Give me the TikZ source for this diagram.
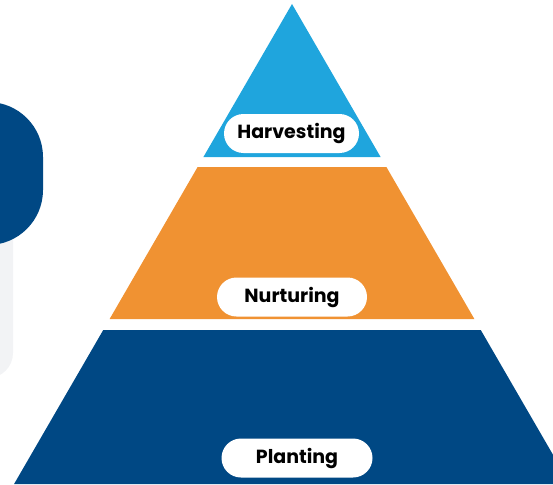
\documentclass[tikz,border=0pt]{standalone}
\usepackage{fontspec}
\setmainfont{Poppins}
\usetikzlibrary{calc}
\usetikzlibrary{positioning}

\definecolor{skyblue}{HTML}{1FA5DD}
\definecolor{carrot}{HTML}{F09232}
\definecolor{navy}{HTML}{004884}
\definecolor{paper}{HTML}{F2F3F5}

\tikzset{pill/.style={fill=white, rounded corners=19.5pt, minimum height=39pt, inner sep=0,
  font=\fontsize{19}{22}\selectfont\bfseries}}

\begin{document}
\begin{tikzpicture} [x=1pt, y=-1pt]
\clip (0,0) rectangle (553,484);
\coordinate (A) at (292,4);
% side panel, cut by the left edge
\fill[paper, rounded corners=25] (-60,170) rectangle (13,378);
\fill[navy, rounded corners=55] (-80,102) rectangle (43,245);
% pyramid: one big triangle, cut into layers
\fill[skyblue] (A) -- ({292+0.579*153},157) -- ({292-0.579*153},157) -- cycle;
\foreach \ya/\yb/\col in {167/319/carrot, 330/484/navy} {
 \fill[\col] ({292-0.579*(\ya-4)},\ya) -- ({292+0.579*(\ya-4)},\ya)
   -- ({292+0.579*(\yb-4)},\yb) -- ({292-0.579*(\yb-4)},\yb) -- cycle;
}
\node[pill, minimum width=135] (harvesting) at (291.5,133.5) {Harvesting};
\node[pill, minimum width=150] (nurturing) at (292,297) {Nurturing};
\node[pill, minimum width=151] (planting) at (297,458) {Planting};
\end{tikzpicture}
\end{document}
